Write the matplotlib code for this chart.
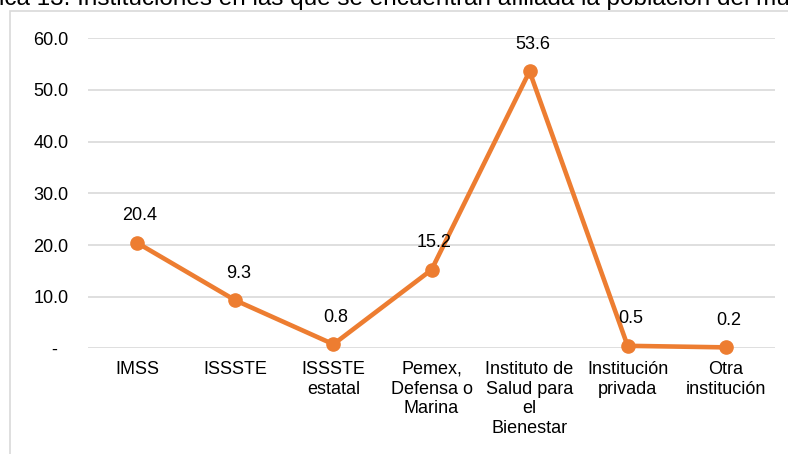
import matplotlib
matplotlib.use("Agg")
import matplotlib.pyplot as plt
from matplotlib.patches import Rectangle

categories = ["IMSS", "ISSSTE", "ISSSTE\nestatal", "Pemex,\nDefensa o\nMarina",
              "Instituto de\nSalud para\nel\nBienestar", "Institución\nprivada", "Otra\ninstitución"]
values = [20.4, 9.3, 0.8, 15.2, 53.6, 0.5, 0.2]
yticks = [0, 10, 20, 30, 40, 50, 60]
ytick_labels = ["-  ", "10.0", "20.0", "30.0", "40.0", "50.0", "60.0"]
title = "ica 13. Instituciones en las que se encuentran afiliada la población del municipio"

plt.rcParams['font.family'] = ['Liberation Sans', 'DejaVu Sans']
W, H = 788, 454
fig = plt.figure(figsize=(W/100, H/100), dpi=100)

# outer chart border (clipped by figure edges)
fig.patches.append(Rectangle((10/W, -0.1), 1.2, 1 - 11/H + 0.1, transform=fig.transFigure,
                             fill=False, edgecolor='#D9D9D9', linewidth=1.2))

fig.text(-1/W, 1 - 5.5/H, title, ha='left', va='baseline', fontsize=17.5, color='black')

left, right, top, bottom = 88.3, 774.7, 38.3, 348.4
ax = fig.add_axes([left/W, 1 - bottom/H, (right-left)/W, (bottom-top)/H])
ax.set_facecolor('none')
x = list(range(len(values)))
ax.plot(x, values, color='#ED7D31', linewidth=3.3, marker='o', markersize=9.5,
        solid_capstyle='round', clip_on=False, zorder=3)
for xi, v in zip(x, values):
    ax.annotate(f"{v:.1f}", (xi, v), xytext=(2, 19.5), textcoords='offset points',
                ha='center', va='center', fontsize=13, color='black')

ax.set_xlim(-0.5, len(values) - 0.5)
ax.set_ylim(0, 60)
ax.set_yticks(yticks)
ax.set_yticklabels(ytick_labels)
ax.set_xticks(x)
ax.set_xticklabels(categories, linespacing=1.2)
ax.tick_params(axis='both', length=0, labelsize=13, colors='black')
ax.tick_params(axis='y', pad=14.4)
ax.tick_params(axis='x', pad=9)
for s in ax.spines.values():
    s.set_visible(False)
ax.yaxis.grid(True, color='#D9D9D9', linewidth=1.2)
ax.set_axisbelow(True)

fig.savefig("out.png", dpi=100)
